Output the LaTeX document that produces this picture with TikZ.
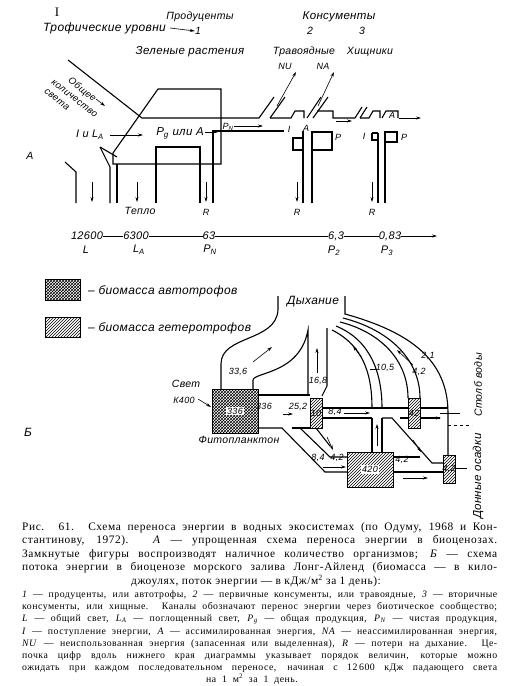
\documentclass[tikz,border=0pt]{standalone}
\usepackage{fontspec}
\setmainfont{Liberation Serif}
\newfontfamily\capfont[LetterSpace=5]{Liberation Serif}
\newfontfamily\lblfont[LetterSpace=3]{Liberation Sans}
\usetikzlibrary{arrows.meta,patterns}

\tikzset{
  chan/.style={line width=1.1pt, line join=miter},
  thinl/.style={line width=0.6pt},
  flowarr/.style={-{Stealth[length=5pt,width=3pt]}, line width=0.6pt},
  lbl/.style={font=\lblfont\itshape\fontsize{10.5}{11}\selectfont, inner sep=0pt},
  big/.style={font=\lblfont\itshape\fontsize{12}{12}\selectfont},
  num/.style={font=\lblfont\itshape\fontsize{9}{9}\selectfont, inner sep=0pt},
  scalenum/.style={font=\lblfont\itshape\fontsize{11}{11}\selectfont, inner sep=0pt},
  capline/.style={font=\capfont\fontsize{11.4}{12}\selectfont, inner sep=0pt, anchor=base west},
  legline/.style={font=\capfont\fontsize{9.8}{10}\selectfont, inner sep=0pt, anchor=base west},
  autobox/.style={draw, line width=0.9pt, pattern=crosshatch},
  hetbox/.style={draw, line width=0.9pt, pattern=north east lines},
}

\begin{document}
\begin{tikzpicture}[x=1pt, y=-1pt, >=Stealth]
  \useasboundingbox (0,0) rectangle (511,686);

  % ---------- A: trophic levels, head
  \node[lbl, font=\fontsize{13}{13}\selectfont] (roman) at (57,12) {I};
  \node[lbl, big, anchor=west] (troph) at (43,28) {Трофические уровни};
  \node[lbl] (prod) at (200,17) {Продуценты};
  \node[lbl] (lev1) at (198,31) {1};
  \draw[flowarr] (troph.east) ++(4,0) -- (lev1.west);
  \node[lbl, font=\lblfont\itshape\fontsize{11.5}{12}\selectfont] (cons) at (339,17) {Консументы};
  \node[lbl] (lev2) at (310,31) {2};
  \node[lbl] (lev3) at (362,31) {3};
  \node[lbl, font=\lblfont\itshape\fontsize{11.5}{12}\selectfont] (green) at (190,52) {Зеленые растения};
  \node[lbl] (herb) at (304,52) {Травоядные};
  \node[lbl] (pred) at (370,52) {Хищники};
  \node[num] (nu) at (285,66) {NU};
  \node[num] (na) at (323,66) {NA};
  \node[lbl, rotate=-38, align=left, font=\lblfont\itshape\fontsize{9.5}{11.5}\selectfont]
    (light) at (75,98) {\hspace*{12pt}Общее\\количество\\света};
  \draw[flowarr] (96,99) -- (105,106);
  \node[lbl] (Aletter) at (30,156) {A};

  % ---------- A: producer block
  \draw[chan] (68,60) -- (142,118) -- (259,118) -- (274,97);
  \draw[chan] (221,89) -- (158,89) -- (113,153) -- (113,164) -- (221,164) -- cycle;
  \draw[chan] (65,162) -- (76,172) -- (76,203);
  \draw[chan] (100,147) -- (110,167) -- (110,203);
  \draw[chan] (100,147) -- (117,157);
  \draw[chan] (117,164) -- (117,203);
  \draw[chan] (156,203) -- (156,147) -- (200,147) -- (200,203);
  \draw[chan] (213,203) -- (213,131) -- (284,131);
  \node[lbl, font=\lblfont\itshape\fontsize{11}{11}\selectfont] (ila) at (90,135) {I и L\textsubscript{A}};
  \draw[flowarr] (110,135) -- (143,135);
  \node[lbl, font=\lblfont\itshape\fontsize{11.5}{11}\selectfont] (pg) at (180,133) {P\textsubscript{g} или A};
  \draw[flowarr] (205,132) -- (218,132);
  \node[num] (pn) at (228,127) {P\textsubscript{N}};
  \draw[flowarr] (234,126) -- (263,126);

  % ---------- A: consumers
  \draw[chan] (270,118) -- (285,97);
  \draw[chan] (270,118) -- (291,118) -- (295,111) -- (304,111) -- (304,118);
  \draw[chan] (307,118) -- (321,97);
  \draw[chan] (313,118) -- (328,97);
  \draw[chan] (317,111) -- (333,111) -- (333,118) -- (355,118) -- (362,107);
  \draw[chan] (360,118) -- (367,107);
  \draw[chan] (360,118) -- (369,118) -- (373,111) -- (380,111) -- (380,118);
  \draw[chan] (382,118) -- (386,111) -- (398,111) -- (398,118);
  \node[num] (aa) at (392,115) {A};
  \draw[flowarr] (277,106) -- (296,72);
  \draw[flowarr] (318,106) -- (334,72);
  \draw[flowarr] (336,121) -- (352,121);
  \draw[flowarr] (399,118) -- (421,118);

  \node[num] (i2) at (289,129) {I};
  \node[num] (a2) at (306,128) {A};
  \draw[chan] (293,138) rectangle (303,150);
  \draw[chan] (303,131) -- (303,203);
  \draw[chan] (312,203) -- (312,132) -- (332,132) -- (332,150) -- (312,150);
  \node[num] (p2) at (338,137) {P};
  \node[num] (i3) at (364,136) {I};
  \draw[chan] (372,133) -- (378,133);
  \draw[chan] (372,133) -- (372,140) -- (378,140);
  \draw[chan] (378,133) -- (378,203);
  \draw[chan] (385,203) -- (385,132) -- (397,132) -- (397,142) -- (386,142);
  \node[num] (p3) at (404,137) {P};

  % ---------- A: losses
  \foreach \x in {92,137,206,297,372}
    \draw[flowarr] (\x,182) -- (\x,202);
  \node[lbl] (heat) at (140,211) {Тепло};
  \node[num] (r1) at (206,212) {R};
  \node[num] (r2) at (297,212) {R};
  \node[num] (r3) at (372,212) {R};

  % ---------- A: scale
  \node[scalenum] (s1) at (87,236) {12600};
  \node[scalenum] (s2) at (136,236) {6300};
  \node[scalenum] (s3) at (209,236) {63};
  \node[scalenum] (s4) at (336,236) {6,3};
  \node[scalenum] (s5) at (390,236) {0,83};
  \draw[thinl] (s1) -- (s2);
  \draw[thinl] (s2) -- (s3);
  \draw[thinl] (s3) -- (s4);
  \draw[thinl] (s4) -- (s5);
  \draw[flowarr] (s5) -- (437,236);
  \node[scalenum] (t1) at (86,250) {L};
  \node[scalenum] (t2) at (139,250) {L\textsubscript{A}};
  \node[scalenum] (t3) at (210,250) {P\textsubscript{N}};
  \node[scalenum] (t4) at (334,251) {P\textsubscript{2}};
  \node[scalenum] (t5) at (387,251) {P\textsubscript{3}};

  % ---------- legend
  \node[autobox, minimum width=35pt, minimum height=21pt, inner sep=0pt] (legA) at (62.5,289.5) {};
  \node[lbl, big, anchor=west] (legAt) at (88,291) {– биомасса автотрофов};
  \node[hetbox, minimum width=35pt, minimum height=20pt, inner sep=0pt] (legH) at (62.5,327) {};
  \node[lbl, big, anchor=west] (legHt) at (88,328) {– биомасса гетеротрофов};

  % ---------- B: flows
  \node[lbl, big] (resp) at (313,302) {Дыхание};
  \node[lbl, big] (Bletter) at (28,432) {Б};
  \draw[chan] (278,296) -- (278,310) .. controls (276,342) and (221,335) .. (221,364) -- (221,389);
  \draw[chan] (253,389) -- (253,380) .. controls (254,372) and (300,374) .. (308,330) -- (308,395);
  \draw[chan] (327,328) -- (327,386) -- (322,396);
  \draw[chan] (345,296) -- (345,314) .. controls (410,332) and (448,360) .. (448,413) -- (448,455);
  \draw[chan] (340,322) .. controls (380,332) and (408,360) .. (408,398);
  \draw[chan] (343,318) .. controls (390,330) and (420,360) .. (420,398);
  \draw[chan] (332,330) .. controls (362,345) and (372,372) .. (372,408);
  \draw[chan] (336,326) .. controls (370,340) and (382,372) .. (382,408);
  \draw[flowarr] (253,362) -- (272,347);
  \draw[flowarr] (317,373) -- (317,348);
  \draw[flowarr] (362,358) -- (353,346);
  \draw[flowarr] (413,365) -- (397,350);
  \node[num] (f336) at (238,372) {33,6};
  \node[num] (f168) at (318,381) {16,8};
  \node[num] (f105) at (385,368) {10,5};
  \draw[thinl] (370,369) -- (376,369);
  \node[num] (f42a) at (419,372) {4,2};
  \node[num] (f21) at (428,356) {2,1};

  % horizontal channels
  \draw[chan] (258,395) -- (310,395);
  \draw[chan] (258,428) -- (282,428) -- (325,472) -- (347,472);
  \draw[chan] (292,428) -- (310,428);
  \draw[chan] (300,428) -- (330,457) -- (347,457);
  \draw[chan] (316,428) -- (330,446);
  \draw[chan] (322,408) -- (408,408);
  \draw[chan] (322,418) -- (372,418);
  \draw[chan] (382,418) -- (392,418) -- (432,463) -- (443,463);
  \draw[chan] (400,418) -- (408,418);
  \draw[chan] (372,418) -- (372,452);
  \draw[chan] (382,418) -- (382,452);
  \draw[chan] (420,408) -- (448,408);
  \draw[chan] (420,418) -- (440,418);
  \draw[chan] (393,457) -- (420,457);
  \draw[chan] (393,472) -- (443,472);
  \draw[flowarr] (377,446) -- (377,424);
  \draw[flowarr] (344,413) -- (370,413);
  \draw[flowarr] (283,414) -- (293,414);
  \draw[flowarr] (428,418) -- (441,418);
  \draw[flowarr] (323,467) -- (346,467);
  \draw[flowarr] (403,478) -- (428,478);
  \draw[flowarr] (413,440) -- (421,452);
  \draw[flowarr] (327,437) -- (333,450);
  \node[num] (f336b) at (264,406) {336};
  \node[num] (f252) at (298,407) {25,2};
  \node[num] (f84a) at (335,412) {8,4};
  \node[num] (f84b) at (318,458) {8,4};
  \node[num] (f42b) at (337,458) {4,2};
  \node[num] (f42c) at (402,460) {4,2};

  % boxes
  \node[autobox, minimum width=46pt, minimum height=44pt, inner sep=0pt] (phyto) at (235,411) {};
  \node[num, fill=white, inner sep=1pt] at (phyto) {336};
  \node[hetbox, minimum width=12pt, minimum height=30pt, inner sep=0pt] (zoo1) at (316,413) {};
  \node[num] at (zoo1) {10};
  \node[hetbox, minimum width=12pt, minimum height=30pt, inner sep=0pt] (zoo2) at (414,413) {};
  \node[num] at (zoo2) {42};
  \node[hetbox, minimum width=46pt, minimum height=35pt, inner sep=0pt] (zoo3) at (370,469.5) {};
  \node[num, fill=white, inner sep=1pt] at (zoo3) {420};
  \node[hetbox, minimum width=12pt, minimum height=28pt, inner sep=0pt] (bent) at (449,469) {};
  \node[num] at (bent) {4,2};

  \node[lbl] (svet) at (186,384) {Свет};
  \node[num] (k400) at (184,400) {К400};
  \draw[flowarr] (198,399) -- (211,407);
  \node[lbl] (phyt) at (239,440) {Фитопланктон};

  \draw[thinl] (440,413) -- (460,413);
  \draw[thinl, dashed] (448,425) -- (472,425);
  \draw[thinl] (455,468) -- (467,468);
  \node[lbl] [rotate=90] (water) at (478,385) {Столб воды};
  \node[lbl, font=\lblfont\itshape\fontsize{11.5}{12}\selectfont, rotate=90] (sedim) at (478,476) {Донные осадки};

  % ---------- caption
  \node[capline] (c1) at (22,530) {\makebox[475pt][s]{Рис. 61. Схема переноса энергии в водных экосистемах (по Одуму, 1968 и Кон-}};
  \node[capline] (c2) at (22,543.5) {\makebox[475pt][s]{стантинову, 1972). \textit{А} — упрощенная схема переноса энергии в биоценозах.}};
  \node[capline] (c3) at (22,557) {\makebox[475pt][s]{Замкнутые фигуры воспроизводят наличное количество организмов; \textit{Б} — схема}};
  \node[capline] (c4) at (22,570.5) {\makebox[475pt][s]{потока энергии в биоценозе морского залива Лонг-Айленд (биомасса — в кило-}};
  \node[capline, anchor=base] (c5) at (256,584) {джоулях, поток энергии — в кДж/м\textsuperscript{2} за 1 день):};
  \node[legline] (l1) at (22,597) {\makebox[475pt][s]{\textit{1} — продуценты, или автотрофы, \textit{2} — первичные консументы, или травоядные, \textit{3} — вторичные}};
  \node[legline] (l2) at (22,609) {\makebox[475pt][s]{консументы, или хищные. Каналы обозначают перенос энергии через биотическое сообщество;}};
  \node[legline] (l3) at (22,621) {\makebox[475pt][s]{\textit{L} — общий свет, \textit{L}\textsubscript{\textit{A}} — поглощенный свет, \textit{P}\textsubscript{\textit{g}} — общая продукция, \textit{P}\textsubscript{\textit{N}} — чистая продукция,}};
  \node[legline] (l4) at (22,634) {\makebox[475pt][s]{\textit{I} — поступление энергии, \textit{A} — ассимилированная энергия, \textit{NA} — неассимилированная энергия,}};
  \node[legline] (l5) at (22,646) {\makebox[475pt][s]{\textit{NU} — неиспользованная энергия (запасенная или выделенная), \textit{R} — потери на дыхание. Це-}};
  \node[legline] (l6) at (22,658) {\makebox[475pt][s]{почка цифр вдоль нижнего края диаграммы указывает порядок величин, которые можно}};
  \node[legline] (l7) at (22,670) {\makebox[475pt][s]{ожидать при каждом последовательном переносе, начиная с 12\,600 кДж падающего света}};
  \node[legline, anchor=base] (l8) at (252,682) {на\hspace{0.6em}1\hspace{0.6em}м\textsuperscript{2}\hspace{0.6em}за\hspace{0.6em}1\hspace{0.6em}день.};
\end{tikzpicture}
\end{document}
